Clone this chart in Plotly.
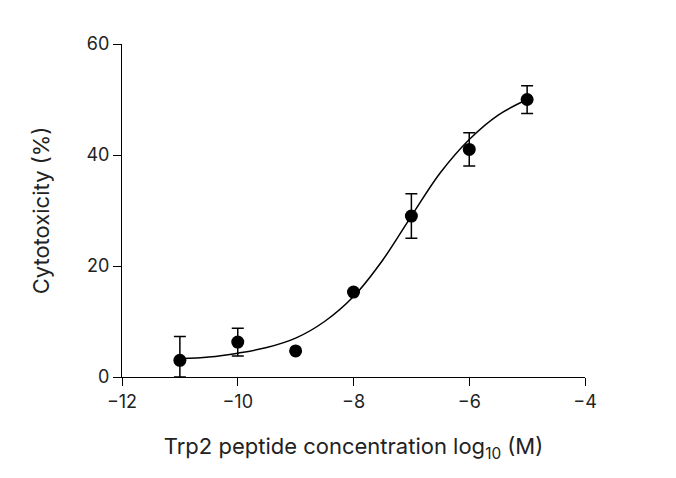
import plotly.graph_objects as go

x_pts = [-11, -10, -9, -8, -7, -6, -5]
y_pts = [3.0, 6.3, 4.7, 15.3, 29.0, 41.0, 50.0]
err_up = [4.3, 2.5, 0, 0, 4.0, 3.0, 2.5]
err_dn = [3.0, 2.5, 0, 0, 4.0, 3.0, 2.5]

x_fit = [-11, -10.5, -10, -9.5, -9, -8.5, -8, -7.5, -7, -6.5, -6, -5.5, -5]
y_fit = [3.3, 3.6, 4.3, 5.3, 7.0, 10.0, 14.5, 21.0, 29.0, 36.8, 42.8, 47.2, 50.0]

fig = go.Figure()
fig.add_trace(go.Scatter(x=x_fit, y=y_fit, mode="lines", line=dict(color="black", width=1.5, shape="spline"), showlegend=False))
fig.add_trace(go.Scatter(x=x_pts, y=y_pts, mode="markers",
                         marker=dict(color="black", size=13),
                         error_y=dict(type="data", array=err_up, arrayminus=err_dn, symmetric=False,
                                      color="black", thickness=1.5, width=6),
                         showlegend=False))
font = dict(family="Inter, Noto Sans, sans-serif", size=18, color="#222")
fig.update_layout(
    width=676, height=478, plot_bgcolor="white", paper_bgcolor="white",
    margin=dict(l=114, r=99, t=36, b=109), font=font,
    xaxis=dict(range=[-12, -4], tickvals=[-12, -10, -8, -6, -4], showline=True, linecolor="black", linewidth=1,
               ticks="outside", ticklen=8, tickcolor="black", showgrid=False, zeroline=False,
               title=dict(text="Trp2 peptide concentration log<sub>10</sub> (M)", font=dict(size=22), standoff=28)),
    yaxis=dict(range=[0, 60], tickvals=[0, 20, 40, 60], showline=True, linecolor="black", linewidth=1,
               ticks="outside", ticklen=8, tickcolor="black", showgrid=False, zeroline=False,
               title=dict(text="Cytotoxicity (%)", font=dict(size=22), standoff=30)),
)
fig.write_html("out.html")
